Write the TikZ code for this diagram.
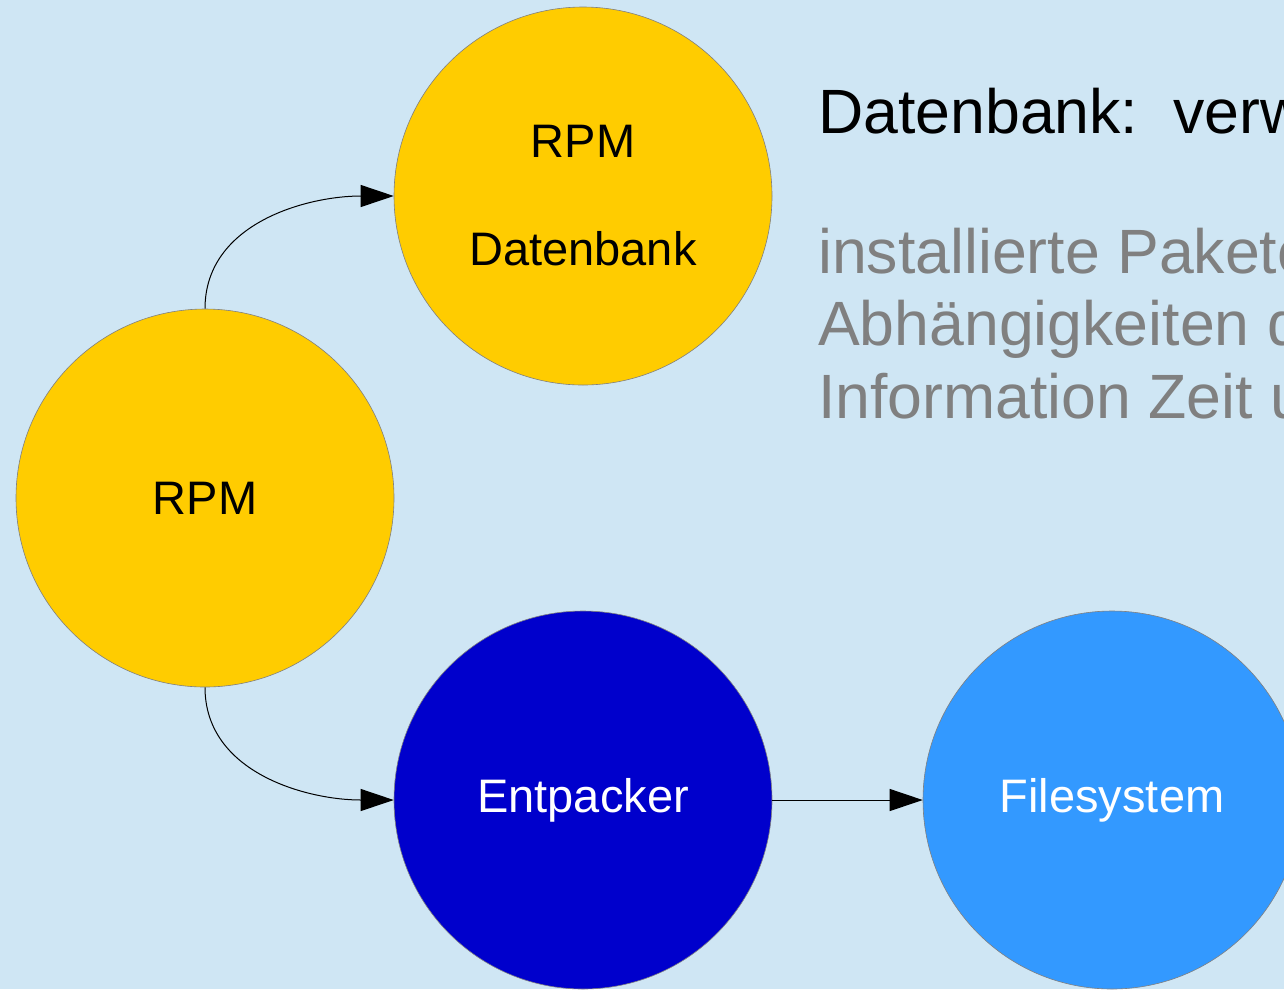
\documentclass[tikz,border=0pt]{standalone}
\usepackage{fontspec}
\setmainfont{Liberation Sans}
\usetikzlibrary{arrows.meta}
\definecolor{hintergrund}{HTML}{CFE6F4}
\definecolor{rpmgelb}{HTML}{FFCC00}
\definecolor{dunkelblau}{HTML}{0000CC}
\definecolor{hellblau}{HTML}{3399FF}
\definecolor{textgrau}{HTML}{808080}
\begin{document}
\begin{tikzpicture}[x=1pt,y=-1pt,
        kreis/.style={circle,draw=gray,line width=0.6pt,minimum size=378pt,inner sep=0pt,align=center,font=\fontsize{47}{108}\selectfont},
        pfeil/.style={-{Triangle[length=33pt,width=22pt]},line width=1pt}]
        \useasboundingbox (0,0) rectangle (1284,989);
        \clip (0,0) rectangle (1284,989);
        \fill[hintergrund] (0,0) rectangle (1284,989);
        % Kreise
        \node[kreis,fill=rpmgelb] (rpm) at (205,498) {RPM};
        \node[kreis,fill=rpmgelb] (db) at (583,196) {RPM\\Datenbank};
        \node[kreis,fill=dunkelblau,text=white] (entp) at (583,800) {Entpacker};
        \node[kreis,fill=hellblau,text=white] (fs) at (1112,800) {Filesystem};
        % Pfeile
        \draw[pfeil] (rpm.north) to[out=90,in=180] (db.west);
        \draw[pfeil] (rpm.south) to[out=-90,in=180] (entp.west);
        \draw[pfeil] (entp.east) -- (fs.west);
        % Text rechts
        \node[anchor=base west,inner sep=0pt,font=\fontsize{62.6}{72.5}\selectfont] (titel) at (818,133) {Datenbank:\ \ verwaltet};
        \node[anchor=base west,inner sep=0pt,align=left,text=textgrau,font=\fontsize{62.6}{72.5}\selectfont] (info) at (818,418)
            {installierte Pakete\\Abhängigkeiten der\\Information Zeit und};
    \end{tikzpicture}
\end{document}
